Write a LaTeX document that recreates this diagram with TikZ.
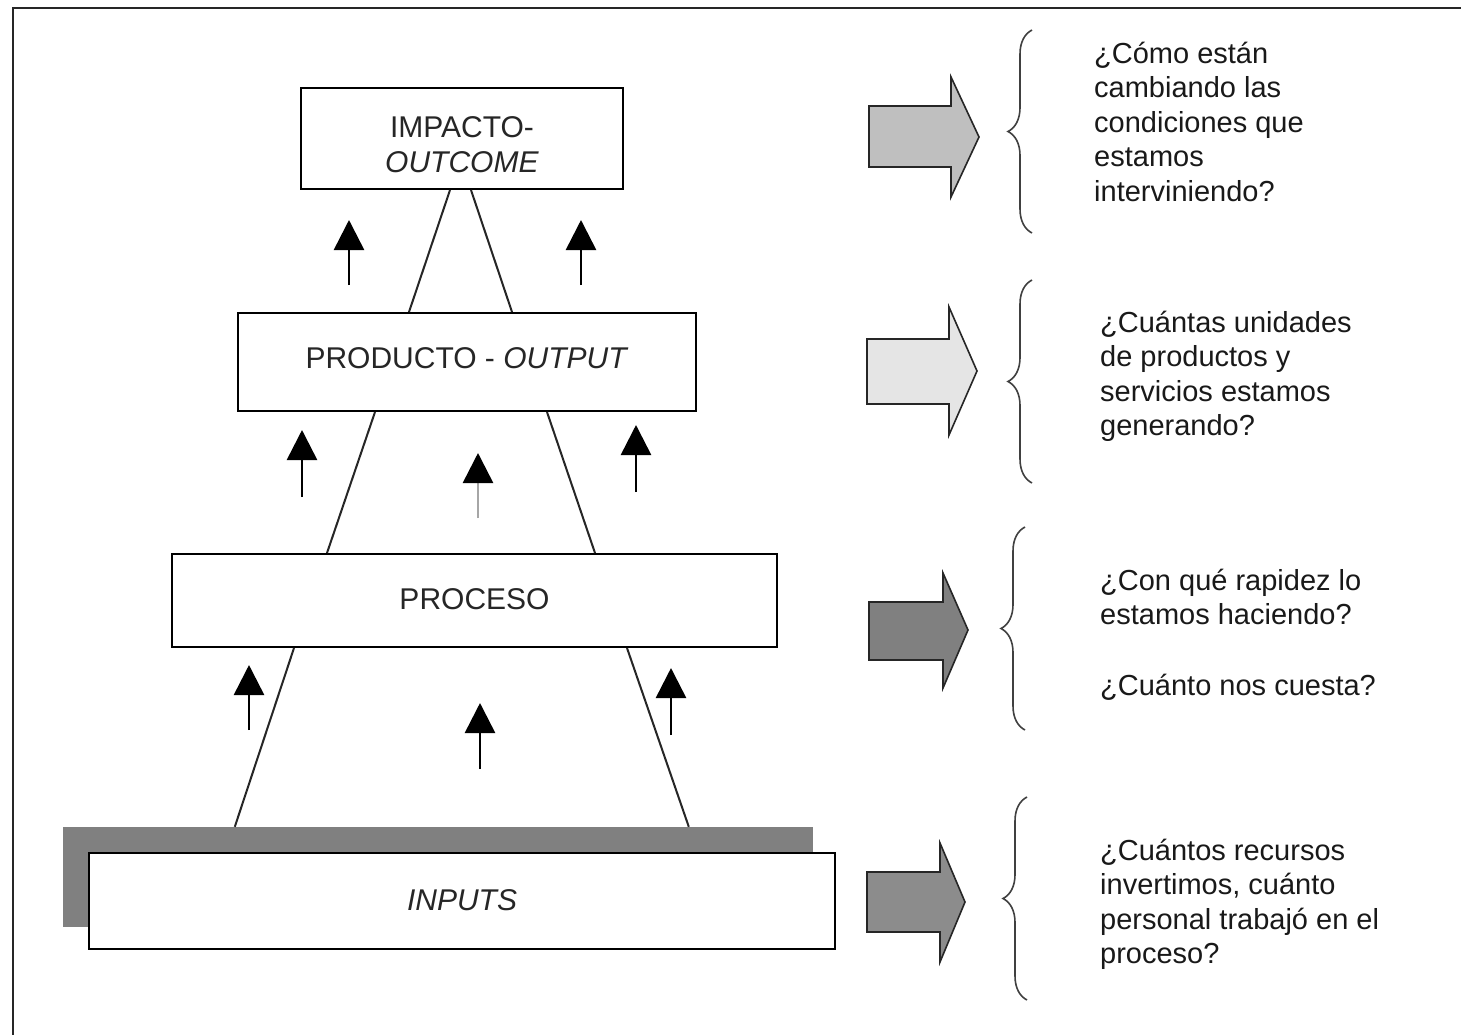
\documentclass[tikz,border=0pt]{standalone}
\usepackage{fontspec}
\setmainfont{Liberation Sans}
\usetikzlibrary{arrows.meta,decorations.pathreplacing,calc}
\begin{document}
\begin{tikzpicture}[x=1pt,y=-1pt,
  box/.style={draw=black, line width=2pt, fill=white, inner sep=0pt, align=center,
    text=black!85, font=\fontsize{30}{35}\selectfont},
  link/.style={draw=black!85, line width=2pt},
  smallarrow/.style={line width=2.6pt, -{Triangle[length=30pt,width=30pt]}},
  blockarrow/.style={draw=black!85, line width=1.6pt, line join=miter},
  bracestyle/.style={draw=black!75, line width=1.6pt, decorate,
    decoration={brace, amplitude=24pt}},
  question/.style={anchor=north west, inner sep=0pt, align=left, text=black!90,
    font=\fontsize{29}{34.5}\selectfont}
]
\useasboundingbox (0,0) rectangle (1461,1034);
\clip (0,0) rectangle (1461,1034);
\fill[white] (0,0) rectangle (1461,1034);

% frame (only top and left edges visible)
\draw[line width=2.6pt, black!85] (13,1050) -- (13,8) -- (1480,8);

% boxes
\node[box, minimum width=322pt, minimum height=101pt] (imp) at (462,138.5)
  {\rule{0pt}{33pt}IMPACTO-\\\textit{OUTCOME}};
\node[box, minimum width=458pt, minimum height=98pt] (prod) at (467,362)
  {\raisebox{7pt}{PRODUCTO - \textit{OUTPUT}}};
\node[box, minimum width=605pt, minimum height=93pt] (proc) at (474.5,600.5)
  {\raisebox{2pt}{PROCESO}};
\node[fill=black!50, inner sep=0pt, minimum width=750pt, minimum height=100pt] (shadow) at (438,877) {};
\node[box, minimum width=746pt, minimum height=96pt] (inp) at (462,901)
  {\raisebox{2pt}{\textit{INPUTS}}};

% pyramid sides
\draw[link] ($(imp.south west)+(150,0)$) -- ($(prod.north west)+(172,0)$);
\draw[link] ($(imp.south west)+(171,0)$) -- ($(prod.north west)+(275,0)$);
\draw[link] ($(prod.south west)+(138,0)$) -- ($(proc.north west)+(156,0)$);
\draw[link] ($(prod.south west)+(310,0)$) -- ($(proc.north west)+(424,0)$);
\draw[link] ($(proc.south west)+(123,0)$) -- ($(shadow.north west)+(172,0)$);
\draw[link] ($(proc.south west)+(456,0)$) -- ($(shadow.north west)+(626,0)$);

% small upward arrows
\coordinate (a1t) at (349,285); \coordinate (a1h) at (349,220);
\coordinate (a2t) at (581,285); \coordinate (a2h) at (581,220);
\coordinate (a3t) at (302,497); \coordinate (a3h) at (302,430);
\coordinate (a4t) at (478,518); \coordinate (a4h) at (478,453);
\coordinate (a5t) at (636,492); \coordinate (a5h) at (636,425);
\coordinate (a6t) at (249,730); \coordinate (a6h) at (249,665);
\coordinate (a7t) at (480,769); \coordinate (a7h) at (480,703);
\coordinate (a8t) at (671,735); \coordinate (a8h) at (671,668);
\draw[smallarrow] (a1t) -- (a1h);
\draw[smallarrow] (a2t) -- (a2h);
\draw[smallarrow] (a3t) -- (a3h);
\draw[smallarrow, draw=black!35, -{Triangle[length=30pt,width=30pt,color=black]}] (a4t) -- (a4h);
\draw[smallarrow] (a5t) -- (a5h);
\draw[smallarrow] (a6t) -- (a6h);
\draw[smallarrow] (a7t) -- (a7h);
\draw[smallarrow] (a8t) -- (a8h);

% block arrows
\draw[blockarrow, fill=black!25] (869,106) -- (951,106) -- (951,77) -- (979,137)
  -- (951,197) -- (951,167) -- (869,167) -- cycle;
\draw[blockarrow, fill=black!10] (867,339) -- (949,339) -- (949,307) -- (977,371)
  -- (949,435) -- (949,404) -- (867,404) -- cycle;
\draw[blockarrow, fill=black!50] (869,602) -- (943,602) -- (943,573) -- (968,630)
  -- (943,688) -- (943,660) -- (869,660) -- cycle;
\draw[blockarrow, fill=black!45] (867,872) -- (940,872) -- (940,843) -- (965,902)
  -- (940,962) -- (940,932) -- (867,932) -- cycle;

% braces
\draw[bracestyle] (1032,233) -- (1032,30);
\draw[bracestyle] (1032,483) -- (1032,280);
\draw[bracestyle] (1025,730) -- (1025,527);
\draw[bracestyle] (1027,1000) -- (1027,797);

% questions
\node[question] (q1) at (1094,39) {\strut¿Cómo están\\cambiando las\\condiciones que\\estamos\\interviniendo?};
\node[question] (q2) at (1100,308) {\strut¿Cuántas unidades\\de productos y\\servicios estamos\\generando?};
\node[question] (q3) at (1100,566) {\strut¿Con qué rapidez lo\\estamos haciendo?\\[36pt]¿Cuánto nos cuesta?};
\node[question] (q4) at (1100,836) {\strut¿Cuántos recursos\\invertimos, cuánto\\personal trabajó en el\\proceso?};
\end{tikzpicture}
\end{document}
